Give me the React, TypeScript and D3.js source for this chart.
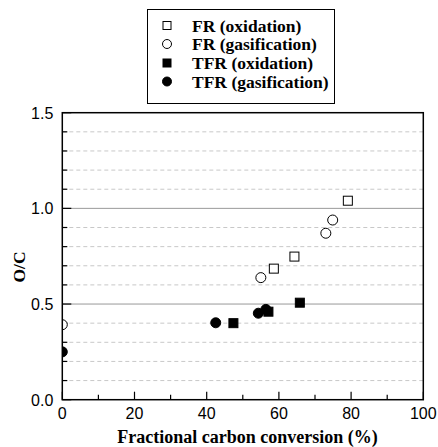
import React, { useEffect, useRef } from 'react'
import * as d3 from 'd3'

// FR (oxidation) - open squares
const frOxX = [58.6, 64.3, 79.1]
const frOxY = [0.685, 0.748, 1.04]
// FR (gasification) - open circles
const frGasX = [0, 55.0, 73.0, 74.9]
const frGasY = [0.392, 0.638, 0.87, 0.939]
// TFR (oxidation) - filled squares
const tfrOxX = [47.4, 57.1, 65.8]
const tfrOxY = [0.40, 0.46, 0.507]
// TFR (gasification) - filled circles
const tfrGasX = [0, 42.5, 54.3, 56.4]
const tfrGasY = [0.25, 0.402, 0.452, 0.472]

const xTicks = [0, 20, 40, 60, 80, 100]
const yTicks = [0.0, 0.5, 1.0, 1.5]
const legendLabels = ['FR (oxidation)', 'FR (gasification)', 'TFR (oxidation)', 'TFR (gasification)']

const SERIF = "'Liberation Serif', 'Times New Roman', Times, serif"
const SANS = "'Liberation Sans', Arial, Helvetica, sans-serif"

export default function App() {
  const ref = useRef<SVGSVGElement>(null)

  useEffect(() => {
    const svg = d3.select(ref.current)
    svg.selectAll('*').remove()

    const left = 62.3, right = 423.3, top = 112.7, bottom = 399.7
    const x = d3.scaleLinear().domain([0, 100]).range([left, right])
    const y = d3.scaleLinear().domain([0, 1.5]).range([bottom, top])

    // grid lines
    const grid = svg.append('g')
    d3.range(1, 15).forEach(i => {
      const v = i / 10
      const major = i % 5 === 0
      grid.append('line')
        .attr('x1', left).attr('x2', right)
        .attr('y1', y(v)).attr('y2', y(v))
        .attr('stroke', major ? '#999' : '#c8c8c8')
        .attr('stroke-width', 1)
        .attr('stroke-dasharray', major ? null : '4,3')
    })

    // y ticks (inward)
    d3.range(0, 16).forEach(i => {
      const major = i % 5 === 0
      svg.append('line')
        .attr('x1', left).attr('x2', left + (major ? 9 : 5))
        .attr('y1', y(i / 10)).attr('y2', y(i / 10))
        .attr('stroke', '#000').attr('stroke-width', 1.2)
    })
    // x ticks (inward)
    d3.range(0, 11).forEach(i => {
      const major = i % 2 === 0
      svg.append('line')
        .attr('x1', x(i * 10)).attr('x2', x(i * 10))
        .attr('y1', bottom).attr('y2', bottom - (major ? 8 : 5))
        .attr('stroke', '#000').attr('stroke-width', 1.2)
    })

    // markers clipped to plot area
    svg.append('clipPath').attr('id', 'plot')
      .append('rect').attr('x', left).attr('y', top)
      .attr('width', right - left).attr('height', bottom - top)
    const pts = svg.append('g').attr('clip-path', 'url(#plot)')

    const square = (g: any, cx: number, cy: number, filled: boolean) => {
      g.append('rect')
        .attr('x', cx - 4.5).attr('y', cy - 4.5)
        .attr('width', 9).attr('height', 9)
        .attr('fill', filled ? '#000' : '#fff')
        .attr('stroke', '#000').attr('stroke-width', 1)
    }
    const circle = (g: any, cx: number, cy: number, filled: boolean) => {
      g.append('circle')
        .attr('cx', cx).attr('cy', cy).attr('r', 5)
        .attr('fill', filled ? '#000' : '#fff')
        .attr('stroke', '#000').attr('stroke-width', 1)
    }

    frOxX.forEach((v, i) => square(pts, x(v), y(frOxY[i]), false))
    frGasX.forEach((v, i) => circle(pts, x(v), y(frGasY[i]), false))
    tfrGasX.forEach((v, i) => circle(pts, x(v), y(tfrGasY[i]), true))
    tfrOxX.forEach((v, i) => square(pts, x(v), y(tfrOxY[i]), true))

    // frame
    svg.append('rect')
      .attr('x', left).attr('y', top)
      .attr('width', right - left).attr('height', bottom - top)
      .attr('fill', 'none').attr('stroke', '#000').attr('stroke-width', 1.5)

    // tick labels
    svg.append('g').selectAll('text').data(yTicks).enter().append('text')
      .attr('x', left - 9).attr('y', d => y(d) + 6)
      .attr('text-anchor', 'end')
      .style('font-family', SANS)
      .attr('font-size', 16)
      .text(d => d.toFixed(1))
    svg.append('g').selectAll('text').data(xTicks).enter().append('text')
      .attr('x', d => x(d)).attr('y', bottom + 19)
      .attr('text-anchor', 'middle')
      .style('font-family', SANS)
      .attr('font-size', 16)
      .text(d => d)

    // axis titles
    svg.append('text')
      .attr('x', 247.5).attr('y', 443)
      .attr('text-anchor', 'middle')
      .style('font-family', SERIF)
      .attr('font-weight', 'bold').attr('font-size', 18)
      .text('Fractional carbon conversion (%)')
    svg.append('text')
      .attr('transform', 'translate(25,267) rotate(-90)')
      .attr('text-anchor', 'middle')
      .style('font-family', SERIF)
      .attr('font-weight', 'bold').attr('font-size', 17.5)
      .text('O/C')

    // legend
    const lg = svg.append('g')
    lg.append('rect')
      .attr('x', 147.5).attr('y', 9.5).attr('width', 187).attr('height', 94)
      .attr('fill', '#fff').attr('stroke', '#000').attr('stroke-width', 1)
    const rowY = [25.5, 44, 63, 81.5]
    legendLabels.forEach((label, i) => {
      const cy = rowY[i]
      const filled = i >= 2
      if (i % 2 === 0) {
        lg.append('rect')
          .attr('x', 167 - 4).attr('y', cy - 4).attr('width', 8).attr('height', 8)
          .attr('fill', filled ? '#000' : '#fff').attr('stroke', '#000')
      } else {
        lg.append('circle').attr('cx', 167).attr('cy', cy).attr('r', 4.5)
          .attr('fill', filled ? '#000' : '#fff').attr('stroke', '#000')
      }
      lg.append('text')
        .attr('x', 192).attr('y', cy + 6)
        .style('font-family', SERIF)
        .attr('font-weight', 'bold').attr('font-size', 17.5)
        .text(label)
    })
  }, [])

  return <svg ref={ref} width={438} height={447} style={{ position: 'absolute', left: 0, top: 0 }}></svg>
}
